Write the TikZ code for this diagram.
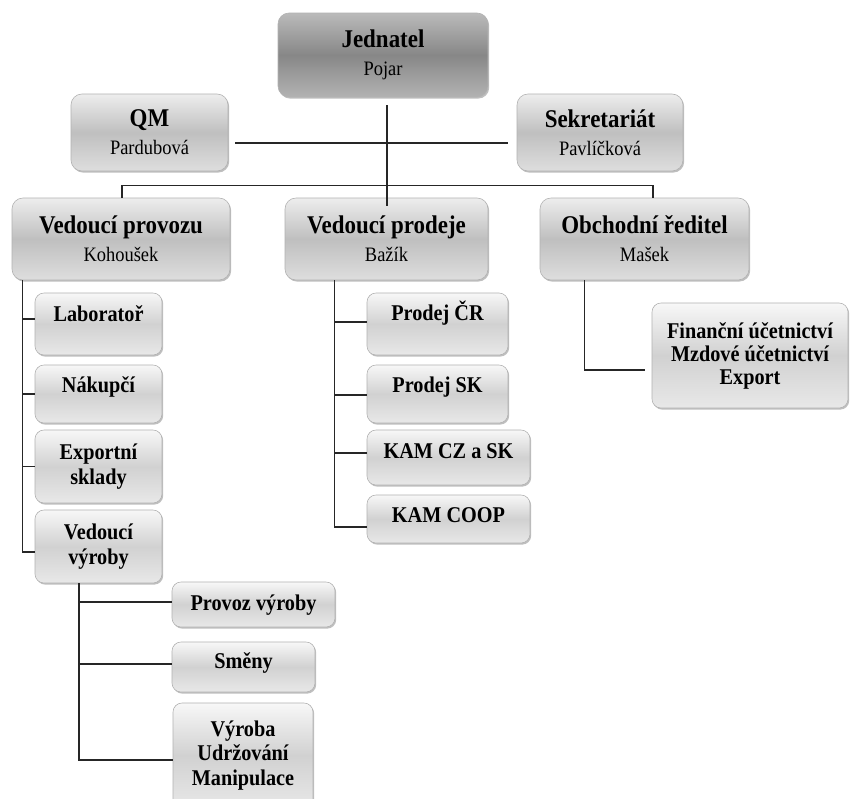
\documentclass[tikz,border=0pt]{standalone}
\usepackage{fontspec}
\setmainfont{Liberation Serif}[FakeStretch=0.9]
\usetikzlibrary{shadows}
\newcommand{\mgrname}[1]{\\{\mdseries\fontsize{20.5}{28}\selectfont #1}}
\tikzset{
  boxbase/.style={rounded corners=11pt, draw=black!30, line width=0.6pt, inner sep=0pt, align=center,
    drop shadow={shadow xshift=1.2pt,shadow yshift=-1.6pt,fill=black!55,opacity=0.45}},
  topbox/.style={boxbase, top color=black!27, bottom color=black!30, middle color=black!47,
    font=\fontsize{25.5}{28}\selectfont\bfseries},
  headbox/.style={boxbase, top color=black!7, bottom color=black!13, middle color=black!25,
    font=\fontsize{25.5}{28}\selectfont\bfseries},
  childbox/.style={boxbase, rounded corners=9pt, top color=black!3, bottom color=black!9, middle color=black!18,
    font=\fontsize{22.5}{24.5}\selectfont\bfseries},
  oneline/.style 2 args={text height=#1pt, text depth=#2pt},
  conn/.style={draw=black!85, line width=1.2pt},
}
\begin{document}
\begin{tikzpicture}[x=1pt,y=-1pt]
\clip (0,0) rectangle (850,798);
\fill[white] (0,0) rectangle (850,798);
% top levels
\node[topbox, minimum width=210pt, minimum height=84pt] (jed) at (383,55) {Jednatel\mgrname{Pojar}};
\node[headbox, minimum width=157pt, minimum height=77pt] (qm) at (149.5,132.5) {QM\mgrname{Pardubová}};
\node[headbox, minimum width=166pt, minimum height=77pt] (sek) at (600,132.5) {Sekretariát\mgrname{Pavlíčková}};
\node[headbox, minimum width=218pt, minimum height=82pt] (vpz) at (121,239) {Vedoucí provozu\mgrname{Kohoušek}};
\node[headbox, minimum width=203pt, minimum height=82pt] (vpd) at (386.5,239) {Vedoucí prodeje\mgrname{Bažík}};
\node[headbox, minimum width=209pt, minimum height=82pt] (obch) at (644.5,239) {Obchodní ředitel\mgrname{Mašek}};
% left column
\node[childbox, oneline={28}{34}, minimum width=127pt, minimum height=62pt] (lab) at (98.5,324) {Laboratoř};
\node[childbox, oneline={27}{31}, minimum width=127pt, minimum height=58pt] (nak) at (98.5,394) {Nákupčí};
\node[childbox, minimum width=127pt, minimum height=73pt] (exs) at (98.5,466.5) {Exportní\\sklady};
\node[childbox, minimum width=127pt, minimum height=73pt] (vv) at (98.5,546.5) {Vedoucí\\výroby};
\node[childbox, oneline={28}{17}, minimum width=163pt, minimum height=45pt] (pv) at (253.5,604.5) {Provoz výroby};
\node[childbox, oneline={26}{24}, minimum width=143pt, minimum height=50pt] (smn) at (243.5,667) {Směny};
\node[childbox, minimum width=140pt, minimum height=105pt] (vyr) at (243,755.5) {Výroba\\Udržování\\Manipulace};
% middle column
\node[childbox, oneline={27}{35}, minimum width=141pt, minimum height=62pt] (pcr) at (437.5,324) {Prodej ČR};
\node[childbox, oneline={27}{31}, minimum width=141pt, minimum height=58pt] (psk) at (437.5,394) {Prodej SK};
\node[childbox, oneline={28}{27}, minimum width=163pt, minimum height=55pt] (kcz) at (448.5,457.5) {KAM CZ a SK};
\node[childbox, oneline={27}{21}, minimum width=163pt, minimum height=48pt] (kcoop) at (448.5,519) {KAM COOP};
% right
\node[childbox, font=\fontsize{22.5}{23}\selectfont\bfseries, minimum width=196pt, minimum height=105pt] (fin) at (750,355.5) {Finanční účetnictví\\Mzdové účetnictví\\Export};
% connectors
\draw[conn] ([xshift=7pt,yshift=-10.5pt]qm.east) -- ([xshift=-9pt,yshift=-10.5pt]sek.west);
\draw[conn] ([xshift=4pt,yshift=-8pt]jed.south) -- ([xshift=4pt,yshift=-8pt]jed.south |- vpd.north);
\draw[conn] ([xshift=1pt]vpz.north) -- ++(0,12pt) -| ([xshift=8.5pt]obch.north);
% left bus
\draw[conn] ([xshift=11pt]vpz.south west) |- ([yshift=-5.5pt]vv.west);
\draw[conn] ([yshift=5pt]lab.west) -- ++(-12pt,0pt);
\draw[conn] (nak.west) -- ++(-12pt,0pt);
\draw[conn] (exs.west) -- ++(-12pt,0pt);
% sub bus
\draw[conn] ([xshift=-19.5pt]vv.south) |- ([yshift=-4.5pt]vyr.west);
\draw[conn] ([yshift=2.5pt]pv.west) -- ++(-93pt,0pt);
\draw[conn] ([yshift=3pt]smn.west) -- ++(-93pt,0pt);
% middle bus
\draw[conn] ([xshift=50pt]vpd.south west) |- ([yshift=-8pt]kcoop.west);
\draw[conn] ([yshift=2pt]pcr.west) -- ++(-32pt,0pt);
\draw[conn] ([yshift=-1pt]psk.west) -- ++(-32pt,0pt);
\draw[conn] ([yshift=4.5pt]kcz.west) -- ++(-32pt,0pt);
% right bus
\draw[conn] ([xshift=45pt]obch.south west) |- ([xshift=-7pt,yshift=-14.5pt]fin.west);
\end{tikzpicture}
\end{document}
